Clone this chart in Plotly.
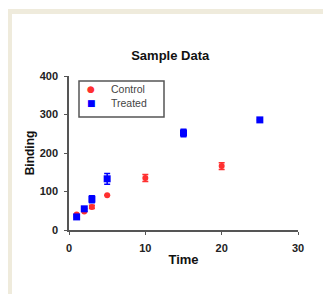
import plotly.graph_objects as go

time_control = [1, 2, 3, 5, 10, 20]
binding_control = [40, 48, 60, 90, 135, 166]
err_control = [0, 0, 4, 0, 9, 9]

time_treated = [1, 2, 3, 5, 15, 25]
binding_treated = [34, 55, 80, 133, 252, 286]
err_treated = [0, 0, 9, 14, 10, 0]

series_names = ["Control", "Treated"]
series_colors = ["#ff3030", "#0000ff"]
legend_symbols = ["●", "■"]

x_ticks = [0, 10, 20, 30]
y_ticks = [0, 100, 200, 300, 400]

OFF = 8  # page body margin
W, H = 331 - OFF, 294 - OFF
L, R, T, B = 69 - OFF, 298 - OFF, 76 - OFF, 230 - OFF
pw, ph = R - L, B - T


def px(x):
    return (x - OFF - L) / pw


def py(y):
    return (B - (y - OFF)) / ph


fig = go.Figure()
fig.add_trace(go.Scatter(
    x=time_control, y=binding_control, mode="markers", name=series_names[0],
    marker=dict(color=series_colors[0], size=6, symbol="circle"),
    error_y=dict(type="data", array=err_control, color=series_colors[0], thickness=1.5, width=3),
))
fig.add_trace(go.Scatter(
    x=time_treated, y=binding_treated, mode="markers", name=series_names[1],
    marker=dict(color=series_colors[1], size=7, symbol="square"),
    error_y=dict(type="data", array=err_treated, color=series_colors[1], thickness=1.5, width=3),
))

border = "#efebdc"
fig.add_shape(type="rect", xref="paper", yref="paper", x0=px(7), x1=px(331), y0=py(14), y1=py(9),
              fillcolor=border, line=dict(width=0), layer="below")
fig.add_shape(type="rect", xref="paper", yref="paper", x0=px(7), x1=px(12), y0=py(294), y1=py(9),
              fillcolor=border, line=dict(width=0), layer="below")

# legend box (drawn manually to match the compact reference legend)
fig.add_shape(type="rect", xref="paper", yref="paper", x0=px(79), x1=px(164), y0=py(117), y1=py(81),
              fillcolor="white", line=dict(color="#555555", width=1.5))
legend_rows_y = [89, 103]
for name, color, sym, ry in zip(series_names, series_colors, legend_symbols, legend_rows_y):
    fig.add_annotation(xref="paper", yref="paper", x=px(91), y=py(ry), text=sym, showarrow=False,
                       xanchor="center", yanchor="middle",
                       font=dict(family="DejaVu Sans", size=9, color=color))
    fig.add_annotation(xref="paper", yref="paper", x=px(109), y=py(ry), text=name, showarrow=False,
                       xanchor="left", yanchor="middle",
                       font=dict(family="Arial", size=10.5, color="#444444"))

axis_common = dict(showgrid=False, zeroline=False, showline=True, linecolor="#555555", linewidth=1.5,
                   ticks="outside", ticklen=3, tickcolor="#555555", ticklabelstandoff=4,
                   tickfont=dict(family="Arial", size=11, color="#222222"))
fig.update_layout(
    width=W, height=H,
    margin=dict(l=L, r=W - R, t=T, b=H - B),
    paper_bgcolor="white", plot_bgcolor="white",
    title=dict(text="<b>Sample Data</b>", x=px(184), xanchor="center", y=1 - (55 - OFF) / H, yanchor="middle",
               font=dict(family="Arial", size=13, color="#111111")),
    xaxis=dict(range=[0, 30], tickvals=x_ticks, ticktext=[f"<b>{v}</b>" for v in x_ticks],
               title=dict(text="<b>Time</b>", font=dict(family="Arial", size=13, color="#111111"), standoff=2),
               **axis_common),
    yaxis=dict(range=[0, 400], tickvals=y_ticks, ticktext=[f"<b>{v}</b>" for v in y_ticks],
               title=dict(text="<b>Binding</b>", font=dict(family="Arial", size=12, color="#111111"), standoff=2),
               **axis_common),
    showlegend=False,
)
fig.write_html("out.html")
